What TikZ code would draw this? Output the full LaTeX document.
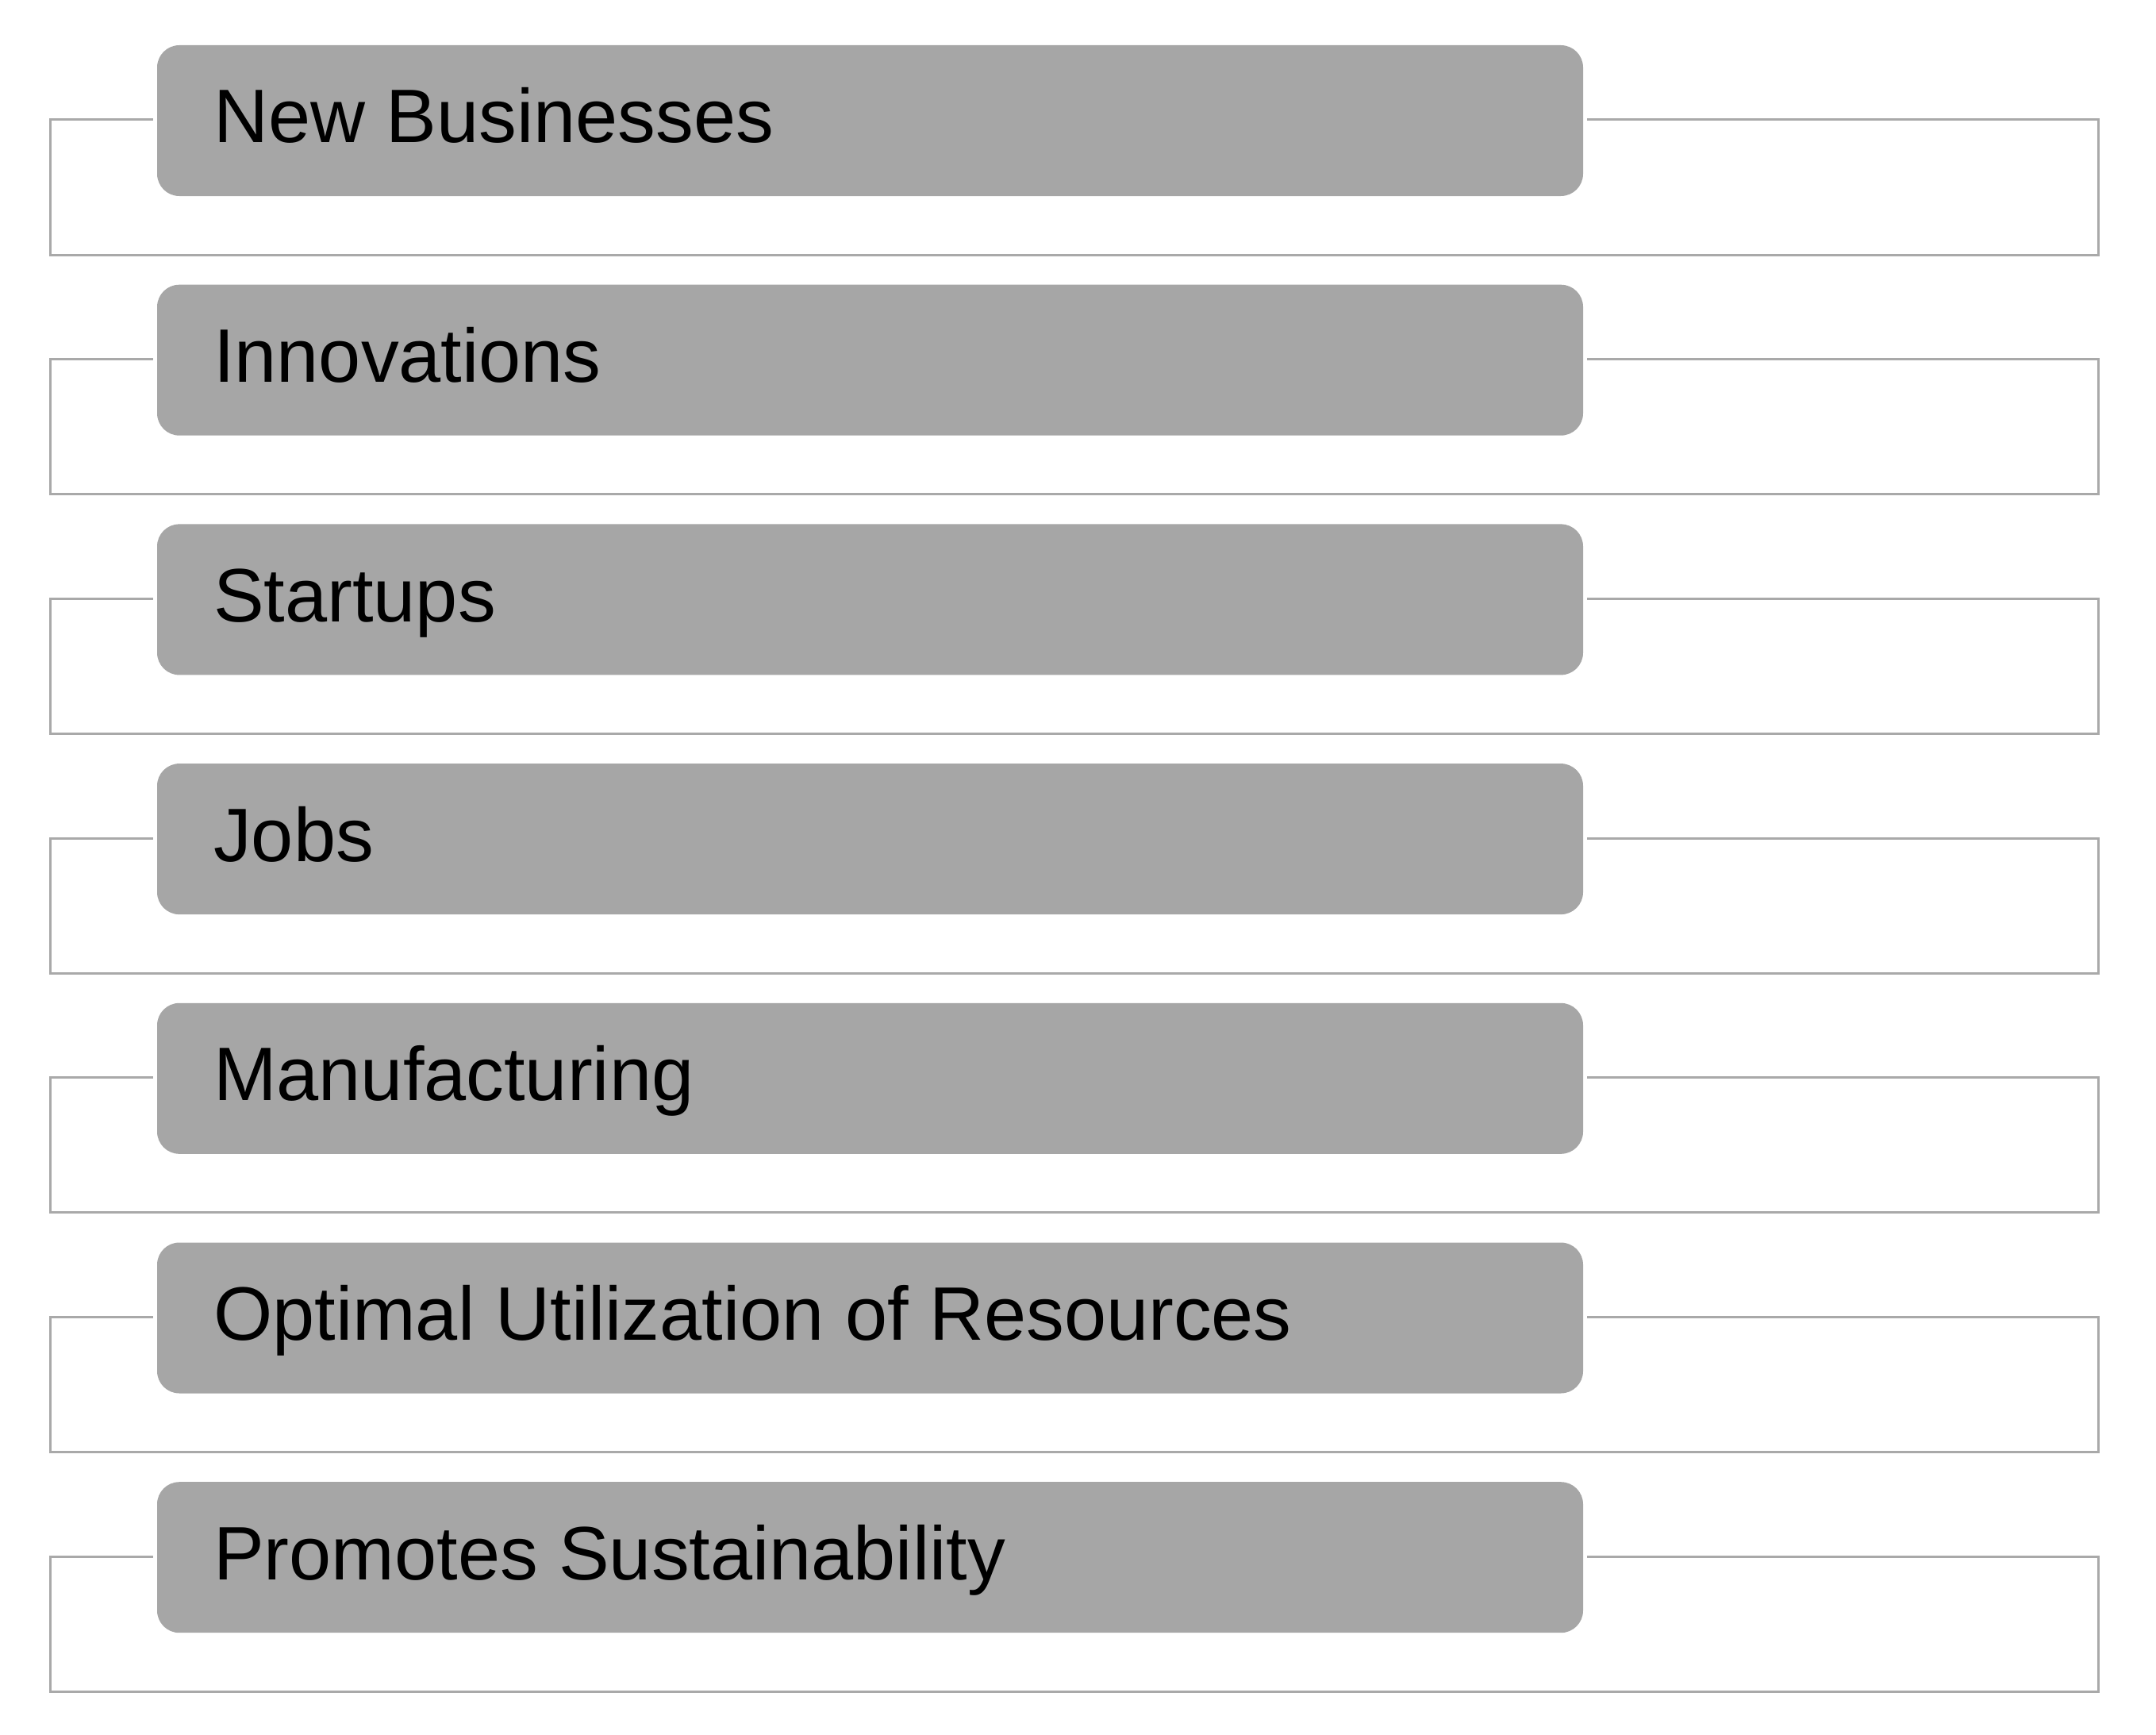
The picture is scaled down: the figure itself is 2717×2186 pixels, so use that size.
\documentclass[tikz,border=0pt]{standalone}
\usepackage{fontspec}
\setmainfont{Liberation Sans}
\definecolor{boxgray}{HTML}{A6A6A6}
\definecolor{linegray}{HTML}{A9A9A9}
\tikzset{
  itembox/.style={rectangle, rounded corners=28pt, fill=boxgray, draw=none,
    minimum width=1797pt, minimum height=190pt, inner sep=0pt},
  itemtext/.style={anchor=base west, inner sep=0pt, text=black,
    font=\fontsize{95.5}{112}\selectfont},
  frameline/.style={draw=linegray, line width=3pt}
}
\begin{document}
\begin{tikzpicture}[x=1pt,y=1pt]
\useasboundingbox (0,0) rectangle (2717,-2186);
\foreach \i/\t in {0/New Businesses, 1/Innovations, 2/Startups, 3/Jobs, 4/Manufacturing, 5/Optimal Utilization of Resources, 6/Promotes Sustainability}{
  \pgfmathsetmacro{\cy}{-(152+301.7*\i)}
  \node[itembox] (b\i) at (1096.5,\cy) {};
  \node[itemtext] (t\i) at (269,\cy-28) {\t};
  \draw[frameline] ([xshift=-5pt,yshift=1pt]b\i.west) -- ([xshift=-134pt,yshift=1pt]b\i.west)
    -- ++(0,-170pt) -| ([xshift=649pt,yshift=1pt]b\i.east) -- ([xshift=5pt,yshift=1pt]b\i.east);
}
\end{tikzpicture}
\end{document}
